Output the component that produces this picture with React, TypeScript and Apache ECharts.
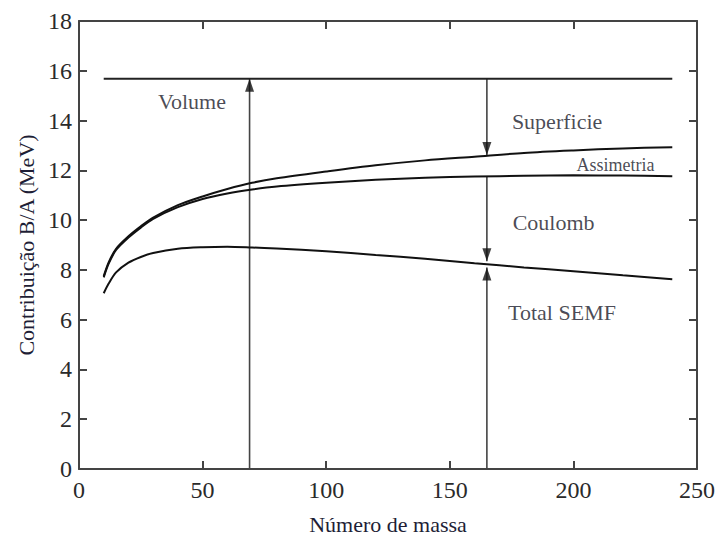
import React, { useEffect, useRef } from "react";
import * as echarts from "echarts";

// Mass number samples
const massNumber = [10, 12, 15, 20, 25, 30, 40, 50, 60, 70, 80, 100, 120, 140, 160, 180, 200, 220, 240];
// Volume term
const volumeX = [10, 240];
const volumeY = [15.68, 15.68];
// Volume - surface
const afterSurface = [7.75, 8.3, 8.85, 9.35, 9.75, 10.1, 10.6, 10.95, 11.25, 11.5, 11.68, 11.95, 12.2, 12.4, 12.55, 12.7, 12.8, 12.88, 12.93];
// Volume - surface - asymmetry
const afterAsymmetry = [7.7, 8.25, 8.8, 9.3, 9.7, 10.05, 10.52, 10.85, 11.07, 11.23, 11.35, 11.5, 11.62, 11.7, 11.75, 11.78, 11.8, 11.79, 11.76];
// Total SEMF
const totalSemf = [7.06, 7.45, 7.9, 8.29, 8.52, 8.68, 8.85, 8.91, 8.93, 8.9, 8.86, 8.75, 8.6, 8.45, 8.27, 8.1, 7.95, 7.78, 7.62];

// Arrows
const arrowX = [69, 165, 165, 165];
const arrowFrom = [0, 15.68, 11.76, 0];
const arrowTo = [15.68, 12.62, 8.35, 8.1];

// Annotations
const noteText = ["Volume", "Superficie", "Assimetria", "Coulomb", "Total SEMF"];
const noteX = [45.7, 193.4, 217, 192, 195.4];
const noteY = [14.75, 13.95, 12.23, 9.9, 6.3];
const noteSize = [22, 22, 18, 22, 22];

const xTicks = { min: 0, max: 250, interval: 50 };
const yTicks = { min: 0, max: 18, interval: 2 };

const FONT = "'Liberation Serif', 'Times New Roman', serif";

export default function App() {
  const ref = useRef<HTMLDivElement>(null);
  useEffect(() => {
    if (!ref.current) return;
    const chart = echarts.init(ref.current, undefined, { renderer: "svg" });

    const axisLineStyle = { color: "#444", width: 2 };
    const tickStyle = { show: true, inside: true, length: 8, lineStyle: { color: "#444", width: 2 } };
    const labelStyle = { fontSize: 24, fontFamily: FONT, color: "#2a2a2a" };

    const curve = (name: string, ys: number[]) => ({
      name,
      type: "line",
      data: massNumber.map((x, i) => [x, ys[i]]),
      showSymbol: false,
      symbol: "none",
      smooth: 0.3,
      lineStyle: { color: "#111", width: 2 },
      z: 3,
    });

    const arrowSeries: any[] = [];
    arrowX.forEach((x, i) => {
      const up = arrowTo[i] > arrowFrom[i];
      arrowSeries.push({
        type: "line",
        data: [
          [x, arrowFrom[i]],
          [x, arrowTo[i]],
        ],
        symbol: "none",
        showSymbol: false,
        lineStyle: { color: "#444", width: 1.6 },
        z: 2,
      });
      arrowSeries.push({
        type: "scatter",
        data: [[x, arrowTo[i]]],
        symbol: "triangle",
        symbolSize: [9, 13],
        symbolRotate: up ? 0 : 180,
        symbolOffset: [0, up ? 6.5 : -6.5],
        itemStyle: { color: "#111" },
        z: 4,
      });
    });

    chart.setOption({
      animation: false,
      grid: { left: 79, right: 16, top: 21, bottom: 70 },
      xAxis: [
        {
          type: "value",
          position: "bottom",
          ...xTicks,
          name: "Número de massa",
          nameLocation: "middle",
          nameGap: 44,
          nameTextStyle: { fontSize: 22, fontFamily: FONT, color: "#1e1e36" },
          axisLine: { show: true, onZero: false, lineStyle: axisLineStyle },
          axisTick: tickStyle,
          axisLabel: { ...labelStyle, margin: 9 },
          splitLine: { show: false },
        },
        {
          type: "value",
          position: "top",
          ...xTicks,
          axisLine: { show: true, onZero: false, lineStyle: axisLineStyle },
          axisTick: tickStyle,
          axisLabel: { show: false },
          splitLine: { show: false },
        },
      ],
      yAxis: [
        {
          type: "value",
          position: "left",
          ...yTicks,
          name: "Contribuição B/A (MeV)",
          nameLocation: "middle",
          nameGap: 41,
          nameRotate: 90,
          nameTextStyle: { fontSize: 22, fontFamily: FONT, color: "#1e1e36" },
          axisLine: { show: true, onZero: false, lineStyle: axisLineStyle },
          axisTick: tickStyle,
          axisLabel: { ...labelStyle, margin: 7 },
          splitLine: { show: false },
        },
        {
          type: "value",
          position: "right",
          ...yTicks,
          axisLine: { show: true, onZero: false, lineStyle: axisLineStyle },
          axisTick: tickStyle,
          axisLabel: { show: false },
          splitLine: { show: false },
        },
      ],
      series: [
        {
          name: "Volume",
          type: "line",
          data: volumeX.map((x, i) => [x, volumeY[i]]),
          symbol: "none",
          showSymbol: false,
          lineStyle: { color: "#222", width: 2 },
          z: 3,
        },
        curve("Superficie", afterSurface),
        curve("Assimetria", afterAsymmetry),
        curve("Total SEMF", totalSemf),
        ...arrowSeries,
        {
          type: "scatter",
          data: noteText.map((t, i) => ({
            value: [noteX[i], noteY[i]],
            label: {
              show: true,
              position: "inside",
              formatter: t,
              fontSize: noteSize[i],
              fontFamily: FONT,
              color: "#1a1a2a",
            },
          })),
          symbolSize: 1,
          itemStyle: { color: "rgba(0,0,0,0)" },
          z: 5,
        },
      ],
    });
    return () => chart.dispose();
  }, []);
  return (
    <div
      ref={ref}
      style={{ position: "absolute", left: 0, top: 0, width: 718, height: 540 }}
    />
  );
}
